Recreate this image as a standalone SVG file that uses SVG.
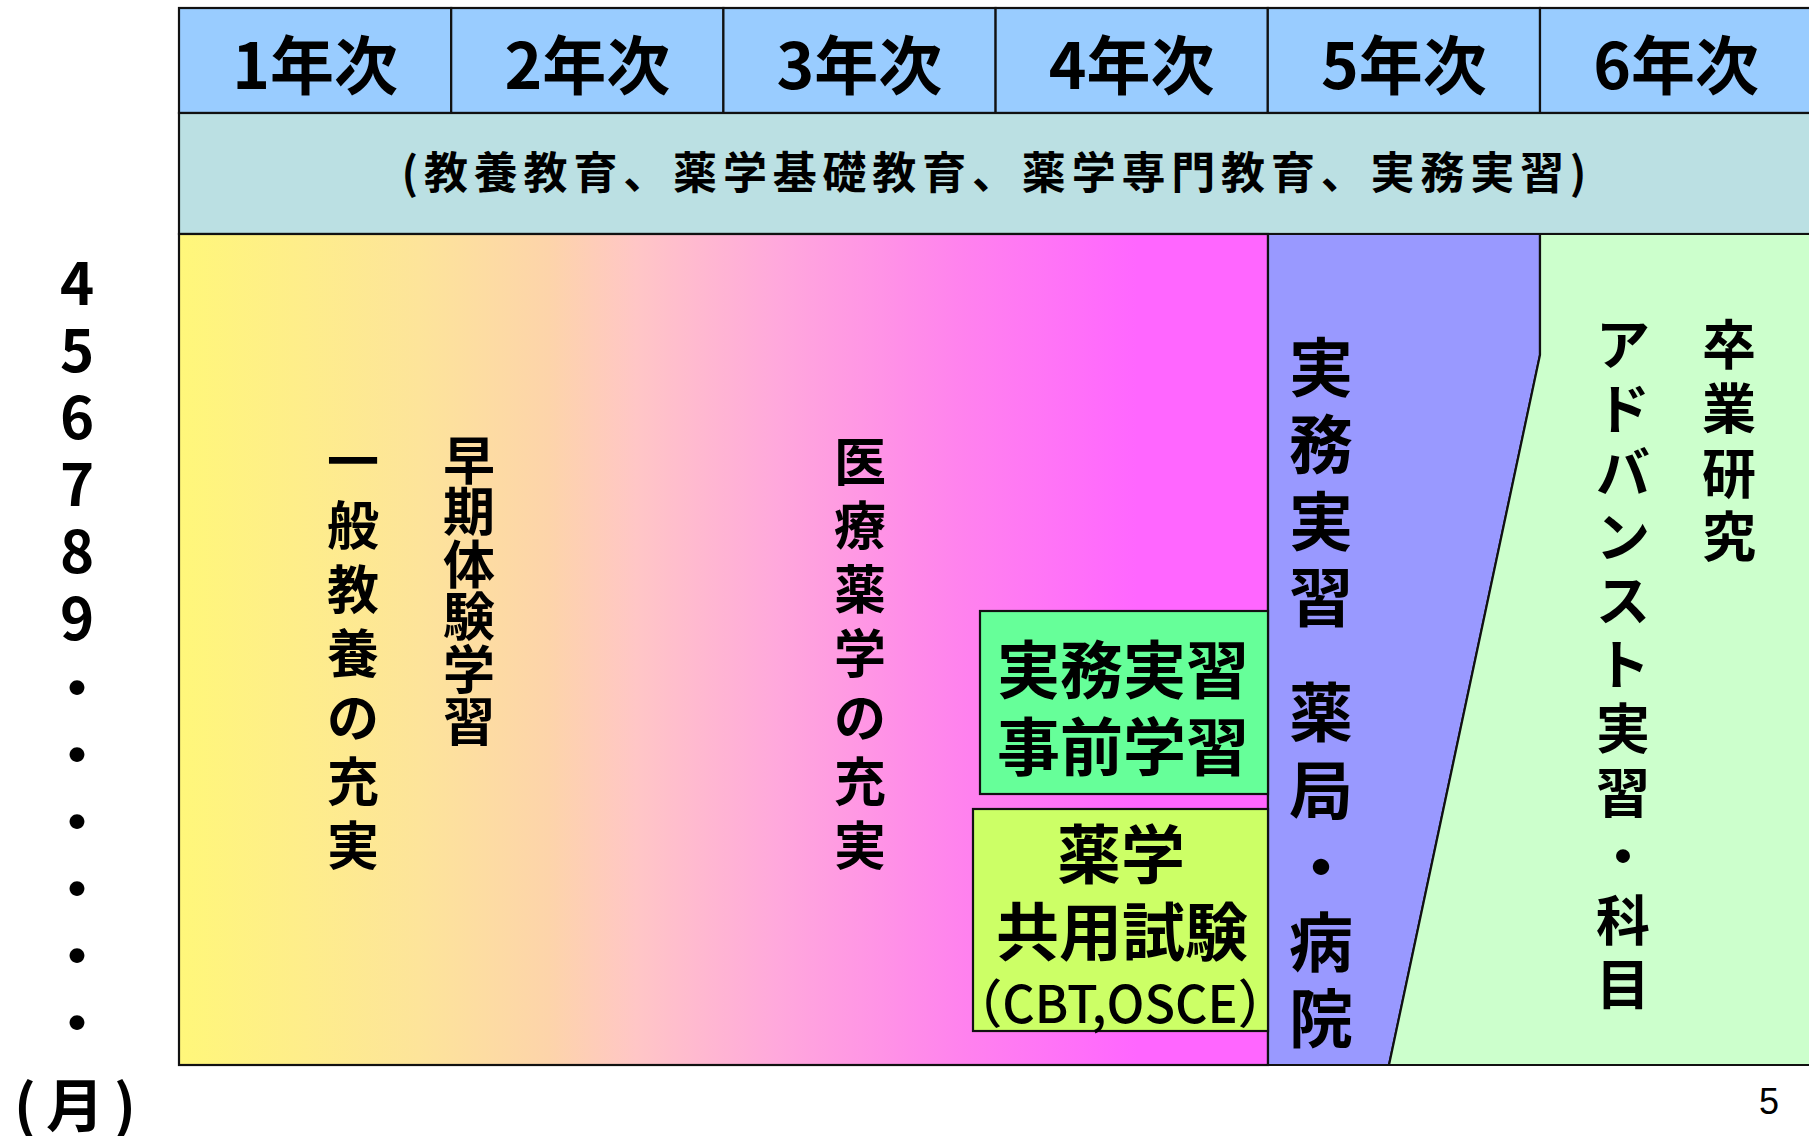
<svg xmlns="http://www.w3.org/2000/svg" width="1809" height="1136" viewBox="0 0 1809 1136">
<style>
text{font-family:"Noto Sans CJK JP","Noto Sans",sans-serif;font-weight:bold;fill:#000}
.cell{stroke:#111;stroke-width:2.2}
.hdr{font-size:64px;text-anchor:middle}
.v52{font-size:52px;text-anchor:middle}
.v54{font-size:54px;text-anchor:middle}
.v64{font-size:64px;text-anchor:middle}
.mon{font-size:58px;text-anchor:middle}
.reg{font-weight:normal}
.med{font-weight:500}
</style>
<defs>
<linearGradient id="gMain" gradientUnits="userSpaceOnUse" x1="179" y1="0" x2="1268" y2="0">
<stop offset="0" stop-color="#FFF77A"/>
<stop offset="0.22" stop-color="#FDE49A"/>
<stop offset="0.34" stop-color="#FDD4AA"/>
<stop offset="0.42" stop-color="#FFC6C6"/>
<stop offset="0.55" stop-color="#FFA8DC"/>
<stop offset="0.72" stop-color="#FF82EE"/>
<stop offset="0.88" stop-color="#FF66FF"/>
<stop offset="1" stop-color="#FF66FF"/>
</linearGradient>
</defs>
<rect width="1809" height="1136" fill="#FFFFFF"/>

<g id="header">
<g id="year1"><rect class="cell" x="179" y="8" width="272.2" height="105" fill="#99CCFF"/><text class="hdr" x="315.1" y="89">1年次</text></g>
<g id="year2"><rect class="cell" x="451.2" y="8" width="272.2" height="105" fill="#99CCFF"/><text class="hdr" x="587.3" y="89">2年次</text></g>
<g id="year3"><rect class="cell" x="723.4" y="8" width="272.2" height="105" fill="#99CCFF"/><text class="hdr" x="859.5" y="89">3年次</text></g>
<g id="year4"><rect class="cell" x="995.6" y="8" width="272.2" height="105" fill="#99CCFF"/><text class="hdr" x="1131.7" y="89">4年次</text></g>
<g id="year5"><rect class="cell" x="1267.8" y="8" width="272.2" height="105" fill="#99CCFF"/><text class="hdr" x="1403.9" y="89">5年次</text></g>
<g id="year6"><rect class="cell" x="1540" y="8" width="272.2" height="105" fill="#99CCFF"/><text class="hdr" x="1676.1" y="89">6年次</text></g>
</g>

<g id="band">
<rect class="cell" x="179" y="113" width="1640" height="121" fill="#BBE0E3"/>
<text x="994" y="189" font-size="44" text-anchor="middle" textLength="1185" lengthAdjust="spacing">(教養教育、薬学基礎教育、薬学専門教育、実務実習)</text>
</g>

<g id="main-area">
<rect class="cell" x="179" y="234" width="1089" height="831" fill="url(#gMain)"/>
</g>

<g id="practice">
<polygon class="cell" points="1268,234 1540,234 1540,355 1389,1065 1268,1065" fill="#9999FF"/>
</g>

<g id="advanced">
<polygon class="cell" points="1540,234 1822,234 1822,1065 1389,1065 1540,355" fill="#CCFFCC"/>
</g>

<g id="pre-practice">
<rect class="cell" x="980" y="611" width="288" height="183" fill="#66FF99"/>
<text x="1123" y="693" font-size="63" text-anchor="middle">実務実習</text>
<text x="1123" y="770" font-size="63" text-anchor="middle">事前学習</text>
</g>

<g id="common-exam">
<rect class="cell" x="973" y="809" width="295" height="222" fill="#CCFF66"/>
<text x="1121" y="878" font-size="64" text-anchor="middle">薬学</text>
<text x="1122" y="955" font-size="63" text-anchor="middle">共用試験</text>
<text class="med" x="1120" y="1023" font-size="52" text-anchor="middle" textLength="336" lengthAdjust="spacingAndGlyphs">（CBT,OSCE）</text>
</g>

<g id="general-education">
<text class="v52"><tspan x="353" y="481">一</tspan><tspan x="353" y="545">般</tspan><tspan x="353" y="609">教</tspan><tspan x="353" y="673">養</tspan><tspan x="353" y="737">の</tspan><tspan x="353" y="801">充</tspan><tspan x="353" y="865">実</tspan></text>
</g>

<g id="early-experience">
<text class="v52"><tspan x="469" y="480">早</tspan><tspan x="469" y="531">期</tspan><tspan x="469" y="584">体</tspan><tspan x="469" y="636">験</tspan><tspan x="469" y="689">学</tspan><tspan x="469" y="741">習</tspan></text>
</g>

<g id="clinical-pharmacy">
<text class="v52"><tspan x="860" y="481">医</tspan><tspan x="860" y="545">療</tspan><tspan x="860" y="609">薬</tspan><tspan x="860" y="673">学</tspan><tspan x="860" y="737">の</tspan><tspan x="860" y="801">充</tspan><tspan x="860" y="865">実</tspan></text>
</g>

<g id="practice-label">
<text class="v64"><tspan x="1321" y="391">実</tspan><tspan x="1321" y="468">務</tspan><tspan x="1321" y="545">実</tspan><tspan x="1321" y="621">習</tspan><tspan x="1321" y="736">薬</tspan><tspan x="1321" y="814">局</tspan><tspan x="1321" y="891">・</tspan><tspan x="1321" y="966">病</tspan><tspan x="1321" y="1042">院</tspan></text>
</g>

<g id="advanced-label">
<text class="v54"><tspan x="1623" y="365">ア</tspan><tspan x="1623" y="429">ド</tspan><tspan x="1623" y="493">バ</tspan><tspan x="1623" y="557">ン</tspan><tspan x="1623" y="621">ス</tspan><tspan x="1623" y="685">ト</tspan><tspan x="1623" y="749">実</tspan><tspan x="1623" y="813">習</tspan><tspan x="1623" y="877">・</tspan><tspan x="1623" y="941">科</tspan><tspan x="1623" y="1005">目</tspan></text>
</g>

<g id="graduation-research">
<text class="v54"><tspan x="1729" y="365">卒</tspan><tspan x="1729" y="429">業</tspan><tspan x="1729" y="494">研</tspan><tspan x="1729" y="557">究</tspan></text>
</g>

<g id="months">
<text class="mon"><tspan x="77" y="305">4</tspan><tspan x="77" y="372">5</tspan><tspan x="77" y="439">6</tspan><tspan x="77" y="506">7</tspan><tspan x="77" y="573">8</tspan><tspan x="77" y="640">9</tspan><tspan x="77" y="710">・</tspan><tspan x="77" y="777">・</tspan><tspan x="77" y="844">・</tspan><tspan x="77" y="911">・</tspan><tspan x="77" y="978">・</tspan><tspan x="77" y="1045">・</tspan></text>
<text x="14" y="1127" font-size="58" letter-spacing="10">(月)</text>
</g>

<g id="page-number">
<text class="reg" x="1769" y="1114" font-size="36" text-anchor="middle" style="font-family:'Liberation Sans',Arial,sans-serif">5</text>
</g>
</svg>
